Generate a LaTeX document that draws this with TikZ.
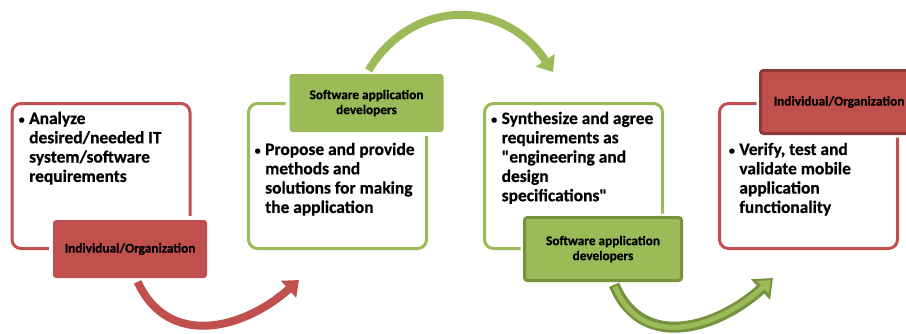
\documentclass[tikz,border=0pt]{standalone}
\usepackage{fontspec}
\setmainfont{Carlito}[BoldFeatures={FakeBold=0.6}]
\usetikzlibrary{arrows.meta,positioning}
\definecolor{rojo}{HTML}{C0504D}
\definecolor{rojoosc}{HTML}{8C3A38}
\definecolor{verde}{HTML}{9BBB59}
\definecolor{verdeosc}{HTML}{76923C}
\newcommand{\bitem}[1]{\makebox[10.5pt][l]{\raisebox{0.5pt}{\fontsize{12}{12}\selectfont\textbullet}}\parbox[t]{170pt}{\raggedright #1}}

\begin{document}
\begin{tikzpicture}[x=1pt,y=-1pt,
  marco/.style={draw=#1, line width=3pt, rounded corners=9pt, minimum width=178pt, minimum height=145pt, inner sep=0pt},
  etiqueta/.style={fill=#1, rounded corners=3pt, minimum width=154pt, minimum height=58pt, inner sep=0pt, align=center,
    font=\fontsize{13.3}{15}\selectfont\bfseries, preaction={draw=white, line width=8pt}},
  punto/.style={anchor=base west, inner sep=0pt, font=\fontsize{17.4}{19.3}\selectfont\bfseries},
  flecha/.style={line width=8pt, draw=#1, shorten <=4pt, -{Triangle[length=14pt,width=22pt]}}]
      \useasboundingbox (0,0) rectangle (906,333);
      % marcos
      \node[marco=rojo] (boxA) at (101,176) {};
      \node[marco=verde] (boxB) at (337.5,176) {};
      \node[marco=verde] (boxC) at (573.5,176) {};
      \node[marco=rojo] (boxD) at (808.5,176) {};
      % etiquetas
      \node[etiqueta=rojo] (labA) at (130,249) {Individual/Organization};
      \node[etiqueta=verde] (labB) at (366.5,103) {Software application\\developers};
      \node[etiqueta=verde, draw=verdeosc, line width=3pt, minimum width=157pt, minimum height=63pt] (labC) at (603,249) {Software application\\developers};
      \node[etiqueta=rojo, draw=rojoosc, line width=3pt, minimum width=157pt, minimum height=63pt] (labD) at (839,102) {Individual/Organization};
      % textos
      \node[punto] (txtA) at (18.5,124) {\bitem{Analyze\\desired/needed IT\\system/software\\requirements}};
      \node[punto] (txtB) at (254.5,155) {\bitem{Propose and provide\\methods and\\solutions for making\\the application}};
      \node[punto] (txtC) at (491,124) {\bitem{Synthesize and agree\\requirements as\\\textquotedbl engineering and\\design\\specifications\textquotedbl}};
      \node[punto] (txtD) at (728.7,155) {\bitem{Verify, test and\\validate mobile\\application\\functionality}};
      % flechas
      \coordinate (puntaA) at (299,280);
      \coordinate (puntaB) at (553,72);
      \coordinate (puntaC) at (773,278);
      \draw[flecha=rojo] ([xshift=6pt]labA.south) .. controls +(32,70) and +(-56,50) .. (puntaA);
      \draw[flecha=verde] (labB.north) .. controls +(45,-75) and +(-50,-75) .. (puntaB);
      \draw[line width=11pt, verdeosc, shorten <=3pt, -{Triangle[length=17pt,width=27pt]}]
        ([xshift=10pt]labC.south) .. controls +(30,72) and +(-52,48) .. (puntaC);
      \draw[line width=5pt, verde, shorten <=5pt, shorten >=3pt, -{Triangle[length=11pt,width=17pt]}]
        ([xshift=10pt]labC.south) .. controls +(30,72) and +(-52,48) .. (puntaC);
\end{tikzpicture}
\end{document}
